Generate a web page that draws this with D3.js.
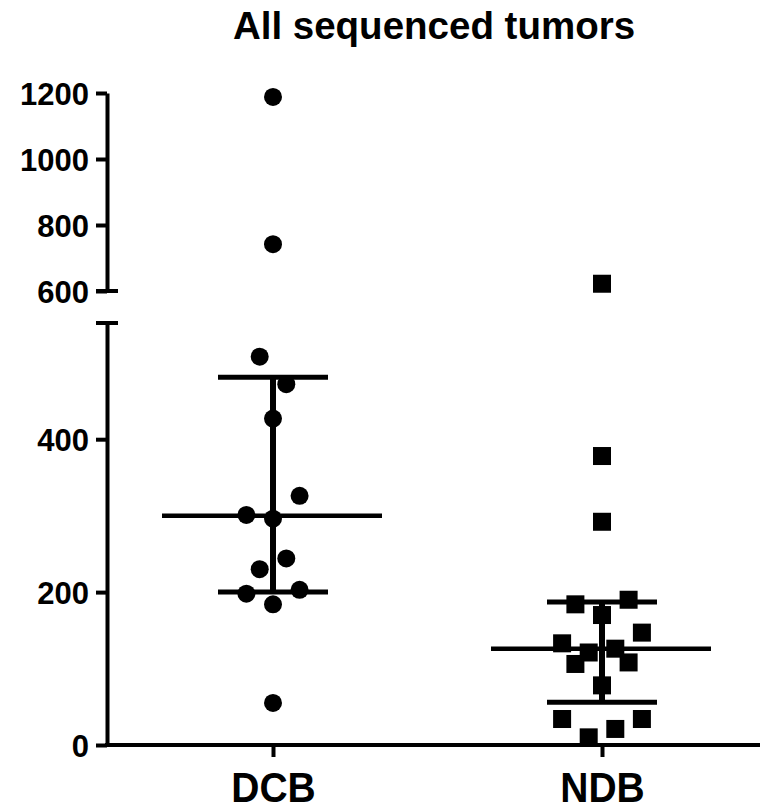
<!DOCTYPE html>
<html>
<head>
<meta charset="utf-8">
<script src="https://cdn.jsdelivr.net/npm/d3@7"></script>
<style>
  body { margin: 0; background: #fff; }
  text { font-family: "Liberation Sans", Arial, Helvetica, sans-serif; font-weight: bold; fill: #000; }
</style>
</head>
<body>
<div class="chart"></div>
<script>
// groups on the x axis
var groups = ["DCB", "NDB"];

// DCB values (circles) and their jitter column
var dcbValues = [1188, 742, 508, 472, 427, 326, 301, 296, 244, 230, 198, 203, 184, 55];
var dcbJitter = [0, 0, -1, 1, 0, 2, -2, 0, 1, -1, -2, 2, 0, 0];

// NDB values (squares) and their jitter column
var ndbValues = [622, 378, 292, 184, 190, 170, 147, 133, 121, 126, 106, 108, 78, 34, 34, 21, 10];
var ndbJitter = [0, 0, 0, -2, 2, 0, 3, -3, -1, 1, -2, 2, 0, -3, 3, 1, -1];

// median with interquartile range per group
var medians = [300, 126];
var upperQ = [481, 187];
var lowerQ = [200, 56];

var lowTicks = [0, 200, 400];
var highTicks = [600, 800, 1000, 1200];

var svg = d3.select(".chart").append("svg")
  .attr("width", 760)
  .attr("height", 811);

// broken y axis: two linear segments
var yLow = d3.scaleLinear().domain([0, 552]).range([745, 323]);
var yHigh = d3.scaleLinear().domain([600, 1200]).range([291, 93]);
function y(v) { return v < 580 ? yLow(v) : yHigh(v); }

var x = d3.scalePoint().domain(groups).range([273, 602]);
var jitterStep = 13.3;
var axisX = 107;

// title
svg.append("text")
  .attr("x", 434)
  .attr("y", 39)
  .attr("text-anchor", "middle")
  .style("font-size", "38.5px")
  .text("All sequenced tumors");

// lower y axis
var lowAxis = svg.append("g")
  .attr("transform", `translate(${axisX},0)`)
  .call(d3.axisLeft(yLow).tickValues(lowTicks).tickFormat(d3.format("d"))
    .tickSize(11).tickSizeOuter(0).tickPadding(7));

// upper y axis
var highAxis = svg.append("g")
  .attr("transform", `translate(${axisX},0)`)
  .call(d3.axisLeft(yHigh).tickValues(highTicks).tickFormat(d3.format("d"))
    .tickSize(11).tickSizeOuter(0).tickPadding(7));

[lowAxis, highAxis].forEach(function(g) {
  g.select(".domain").attr("stroke", "#000").attr("stroke-width", 4);
  g.selectAll(".tick line").attr("stroke", "#000").attr("stroke-width", 4);
  g.selectAll(".tick text")
    .style("font-size", "31px")
    .style("font-family", "'Liberation Sans', Arial, sans-serif")
    .style("font-weight", "bold")
    .attr("dy", "0.36em");
});

// break caps
svg.append("line")
  .attr("x1", axisX - 11).attr("x2", axisX + 11)
  .attr("y1", yHigh(600)).attr("y2", yHigh(600))
  .attr("stroke", "#000").attr("stroke-width", 4);
svg.append("line")
  .attr("x1", axisX - 11).attr("x2", axisX + 11)
  .attr("y1", yLow(552)).attr("y2", yLow(552))
  .attr("stroke", "#000").attr("stroke-width", 4);

// x axis
var xAxis = svg.append("g")
  .attr("transform", `translate(0,${yLow(0)})`)
  .call(d3.axisBottom(x).tickSize(12).tickSizeOuter(0).tickPadding(16));
xAxis.select(".domain").attr("d", `M${axisX - 2},0H760`).attr("stroke", "#000").attr("stroke-width", 4);
xAxis.selectAll(".tick line").attr("stroke", "#000").attr("stroke-width", 4);
xAxis.selectAll(".tick text")
  .style("font-size", "39px")
  .style("font-family", "'Liberation Sans', Arial, sans-serif")
  .style("font-weight", "bold")
  .attr("dy", null)
  .attr("y", 0)
  .attr("transform", "translate(0,56.5) scale(1,1.1)");

// points
var dcb = dcbValues.map((v, i) => ({ v: v, j: dcbJitter[i] }));
var ndb = ndbValues.map((v, i) => ({ v: v, j: ndbJitter[i] }));

svg.append("g").selectAll("circle")
  .data(dcb)
  .enter()
  .append("circle")
  .attr("cx", d => x("DCB") + d.j * jitterStep)
  .attr("cy", d => y(d.v))
  .attr("r", 9)
  .attr("fill", "#000");

svg.append("g").selectAll("rect")
  .data(ndb)
  .enter()
  .append("rect")
  .attr("x", d => x("NDB") + d.j * jitterStep - 9)
  .attr("y", d => y(d.v) - 9)
  .attr("width", 18)
  .attr("height", 18)
  .attr("fill", "#000");

// median and interquartile range
var stats = groups.map((g, i) => ({ g: g, med: medians[i], hi: upperQ[i], lo: lowerQ[i] }));
var statG = svg.append("g").attr("stroke", "#000");

statG.selectAll(".med").data(stats).enter().append("line")
  .attr("stroke-width", 4.5)
  .attr("x1", d => x(d.g) - 111).attr("x2", d => x(d.g) + 109)
  .attr("y1", d => yLow(d.med)).attr("y2", d => yLow(d.med));

statG.selectAll(".vbar").data(stats).enter().append("line")
  .attr("stroke-width", 6)
  .attr("x1", d => x(d.g)).attr("x2", d => x(d.g))
  .attr("y1", d => yLow(d.hi)).attr("y2", d => yLow(d.lo));

statG.selectAll(".capHi").data(stats).enter().append("line")
  .attr("stroke-width", 5)
  .attr("x1", d => x(d.g) - 55).attr("x2", d => x(d.g) + 55)
  .attr("y1", d => yLow(d.hi)).attr("y2", d => yLow(d.hi));

statG.selectAll(".capLo").data(stats).enter().append("line")
  .attr("stroke-width", 5)
  .attr("x1", d => x(d.g) - 55).attr("x2", d => x(d.g) + 55)
  .attr("y1", d => yLow(d.lo)).attr("y2", d => yLow(d.lo));
</script>
</body>
</html>
